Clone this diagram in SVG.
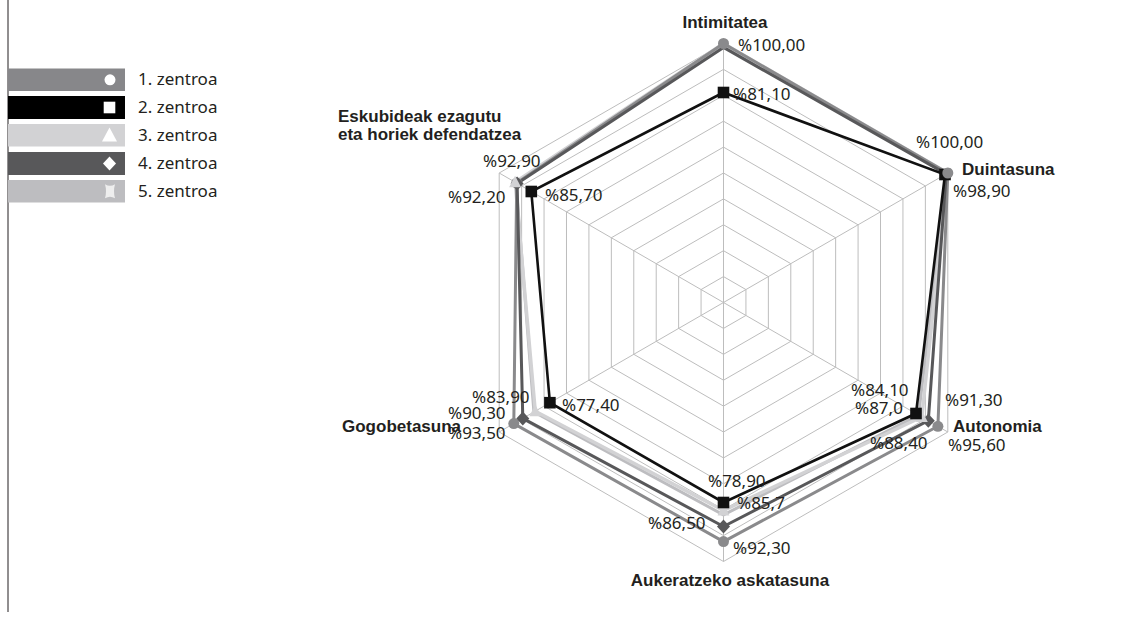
<svg xmlns="http://www.w3.org/2000/svg" width="1140" height="618" viewBox="0 0 1140 618">
  <style>
    .grid { fill: none; stroke: #bdbdbd; stroke-width: 1; }
    .val { font-family: "Noto Sans", "Liberation Sans", sans-serif; font-size: 17px; fill: #231f20; }
    .axis { font-family: "Liberation Sans", Arial, sans-serif; font-size: 17px; font-weight: bold; fill: #231f20; }
    .leg { font-family: "Noto Sans", "Liberation Sans", sans-serif; font-size: 17px; fill: #231f20; }
    .s1 { fill: none; stroke: #8a8a8c; stroke-width: 3; stroke-linejoin: round; }
    .s2 { fill: none; stroke: #111111; stroke-width: 2.6; stroke-linejoin: miter; }
    .s3 { fill: none; stroke: #d2d2d4; stroke-width: 3.4; stroke-linejoin: round; }
    .s4 { fill: none; stroke: #58585a; stroke-width: 3; stroke-linejoin: round; }
    .s5 { fill: none; stroke: #bdbdc0; stroke-width: 3; stroke-linejoin: round; }
  </style>
  <defs>
    <circle id="m-circle" r="5.5"/>
    <rect id="m-square" x="-5.8" y="-5.8" width="11.6" height="11.6"/>
    <path id="m-triangle" d="M0,-6.5 L6,5 L-6,5 Z"/>
    <path id="m-diamond" d="M0,-7 L6.5,0 L0,7 L-6.5,0 Z"/>
    <path id="m-star" d="M-5,-7 Q0,-4 5,-7 Q3,0 5,7 Q0,4 -5,7 Q-3,0 -5,-7 Z"/>
  </defs>

  <!-- frame rule on the left -->
  <line x1="8" y1="0" x2="8" y2="612" stroke="#231f20" stroke-width="1"/>

  <!-- legend -->
  <g id="legend">
    <g id="legend-1">
      <rect x="8" y="68.5" width="117" height="22.5" fill="#87878a"/>
      <use href="#m-circle" x="110" y="79.8" fill="#ffffff"/>
      <text class="leg" x="138" y="85">1. zentroa</text>
    </g>
    <g id="legend-2">
      <rect x="8" y="96" width="117" height="23" fill="#000000"/>
      <use href="#m-square" x="109.5" y="107.5" fill="#ffffff"/>
      <text class="leg" x="138" y="113">2. zentroa</text>
    </g>
    <g id="legend-3">
      <rect x="8" y="124" width="117" height="22.5" fill="#d2d2d4"/>
      <path d="M109.5,127.5 L117,141.5 L102,141.5 Z" fill="#ffffff"/>
      <text class="leg" x="138" y="141">3. zentroa</text>
    </g>
    <g id="legend-4">
      <rect x="8" y="152" width="117" height="23" fill="#58585a"/>
      <use href="#m-diamond" x="109.5" y="163.5" fill="#ffffff"/>
      <text class="leg" x="138" y="169">4. zentroa</text>
    </g>
    <g id="legend-5">
      <rect x="8" y="180" width="117" height="22.5" fill="#bdbdc0"/>
      <use href="#m-star" x="110" y="191.3" fill="#eeeeee"/>
      <text class="leg" x="138" y="197">5. zentroa</text>
    </g>
  </g>

  <!-- radar grid: ten rings at 10 % steps, six spokes -->
  <g id="grid">
    <polygon class="grid" points="723.5,276.6 745.93,289.55 745.93,315.45 723.5,328.4 701.07,315.45 701.07,289.55"/>
    <polygon class="grid" points="723.5,250.7 768.36,276.6 768.36,328.4 723.5,354.3 678.64,328.4 678.64,276.6"/>
    <polygon class="grid" points="723.5,224.8 790.79,263.65 790.79,341.35 723.5,380.2 656.21,341.35 656.21,263.65"/>
    <polygon class="grid" points="723.5,198.9 813.22,250.7 813.22,354.3 723.5,406.1 633.78,354.3 633.78,250.7"/>
    <polygon class="grid" points="723.5,173 835.65,237.75 835.65,367.25 723.5,432 611.35,367.25 611.35,237.75"/>
    <polygon class="grid" points="723.5,147.1 858.08,224.8 858.08,380.2 723.5,457.9 588.92,380.2 588.92,224.8"/>
    <polygon class="grid" points="723.5,121.2 880.51,211.85 880.51,393.15 723.5,483.8 566.49,393.15 566.49,211.85"/>
    <polygon class="grid" points="723.5,95.3 902.94,198.9 902.94,406.1 723.5,509.7 544.06,406.1 544.06,198.9"/>
    <polygon class="grid" points="723.5,69.4 925.37,185.95 925.37,419.05 723.5,535.6 521.63,419.05 521.63,185.95"/>
    <polygon class="grid" points="723.5,43.5 947.8,173 947.8,432 723.5,561.5 499.2,432 499.2,173"/>
    <path class="grid" d="M723.5,302.5 L723.5,43.5 M723.5,302.5 L947.8,173 M723.5,302.5 L947.8,432 M723.5,302.5 L723.5,561.5 M723.5,302.5 L499.2,432 M723.5,302.5 L499.2,173"/>
  </g>

  <!-- data series outlines -->
  <g id="connectors">
    <polygon id="series-5" class="s5" points="723.5,44.8 946.7,173.6 918.6,415.2 723.5,514.9 533.9,412 516,182.7"/>
    <polygon id="series-3" class="s3" points="723.5,43.5 947.8,173 921.8,417 723.5,510.5 535.3,411.2 515.1,182.2"/>
    <polygon id="series-1" class="s1" points="723.5,43.5 947.8,173 937.9,426.3 723.5,541.6 513.8,423.6 516.7,183.1"/>
    <polygon id="series-4" class="s4" points="723.5,47.4 946.2,173.9 928.3,420.7 723.5,526.5 522.8,418.4 517.1,183.4"/>
    <polygon id="series-2" class="s2" points="723.5,92.5 945,174.5 916,413.5 723.5,502.5 549.9,402.7 531.3,191.5"/>
  </g>

  <!-- point markers -->
  <g id="markers">
    <use href="#m-circle" x="937.9" y="426.3" fill="#8a8a8c"/>
    <use href="#m-circle" x="723.5" y="541.6" fill="#8a8a8c"/>
    <use href="#m-circle" x="513.8" y="423.6" fill="#8a8a8c"/>
    <use href="#m-circle" x="516.7" y="183.1" fill="#8a8a8c"/>
    <use href="#m-diamond" x="928.3" y="420.7" fill="#58585a"/>
    <use href="#m-diamond" x="723.5" y="526.5" fill="#58585a"/>
    <use href="#m-diamond" x="522.8" y="418.4" fill="#58585a"/>
    <use href="#m-diamond" x="517.1" y="183.4" fill="#58585a"/>
    <use href="#m-triangle" x="921.8" y="417" fill="#d2d2d4"/>
    <use href="#m-triangle" x="723.5" y="510.5" fill="#d2d2d4"/>
    <use href="#m-triangle" x="535.3" y="411.2" fill="#d2d2d4"/>
    <use href="#m-triangle" x="515.1" y="182.2" fill="#d2d2d4"/>
    <use href="#m-square" x="945" y="174.5" fill="#111111"/>
    <use href="#m-circle" x="947.8" y="173" fill="#8a8a8c"/>
    <use href="#m-circle" x="723.5" y="43.5" fill="#8a8a8c"/>
    <use href="#m-square" x="723.5" y="92.5" fill="#111111"/>
    <use href="#m-square" x="916" y="413.5" fill="#111111"/>
    <use href="#m-square" x="723.5" y="502.5" fill="#111111"/>
    <use href="#m-square" x="549.9" y="402.7" fill="#111111"/>
    <use href="#m-square" x="531.3" y="191.5" fill="#111111"/>
  </g>

  <!-- axis nodes with their value labels -->
  <g id="axis-intimitatea">
    <text class="axis" x="725" y="28" text-anchor="middle">Intimitatea</text>
    <text class="val" x="738" y="51">%100,00</text>
    <text class="val" x="733" y="100">%81,10</text>
  </g>
  <g id="axis-duintasuna">
    <text class="val" x="916" y="148">%100,00</text>
    <text class="axis" x="962" y="175">Duintasuna</text>
    <text class="val" x="953" y="197">%98,90</text>
  </g>
  <g id="axis-autonomia">
    <text class="val" x="851" y="396">%84,10</text>
    <text class="val" x="855" y="414">%87,0</text>
    <text class="val" x="945" y="406">%91,30</text>
    <text class="axis" x="953" y="432">Autonomia</text>
    <text class="val" x="870" y="449">%88,40</text>
    <text class="val" x="948" y="451">%95,60</text>
  </g>
  <g id="axis-aukeratzeko">
    <text class="val" x="708" y="487">%78,90</text>
    <text class="val" x="737" y="509">%85,7</text>
    <text class="val" x="648" y="529">%86,50</text>
    <text class="val" x="733" y="554">%92,30</text>
    <text class="axis" x="730" y="586" text-anchor="middle">Aukeratzeko askatasuna</text>
  </g>
  <g id="axis-gogobetasuna">
    <text class="val" x="472" y="403">%83,90</text>
    <text class="val" x="448" y="419">%90,30</text>
    <text class="axis" x="342" y="432">Gogobetasuna</text>
    <text class="val" x="448" y="439">%93,50</text>
    <text class="val" x="562" y="411">%77,40</text>
  </g>
  <g id="axis-eskubideak">
    <text class="axis" x="338" y="122">Eskubideak ezagutu</text>
    <text class="axis" x="338" y="139.5">eta horiek defendatzea</text>
    <text class="val" x="483" y="167">%92,90</text>
    <text class="val" x="448" y="203">%92,20</text>
    <text class="val" x="545" y="201">%85,70</text>
  </g>
</svg>
